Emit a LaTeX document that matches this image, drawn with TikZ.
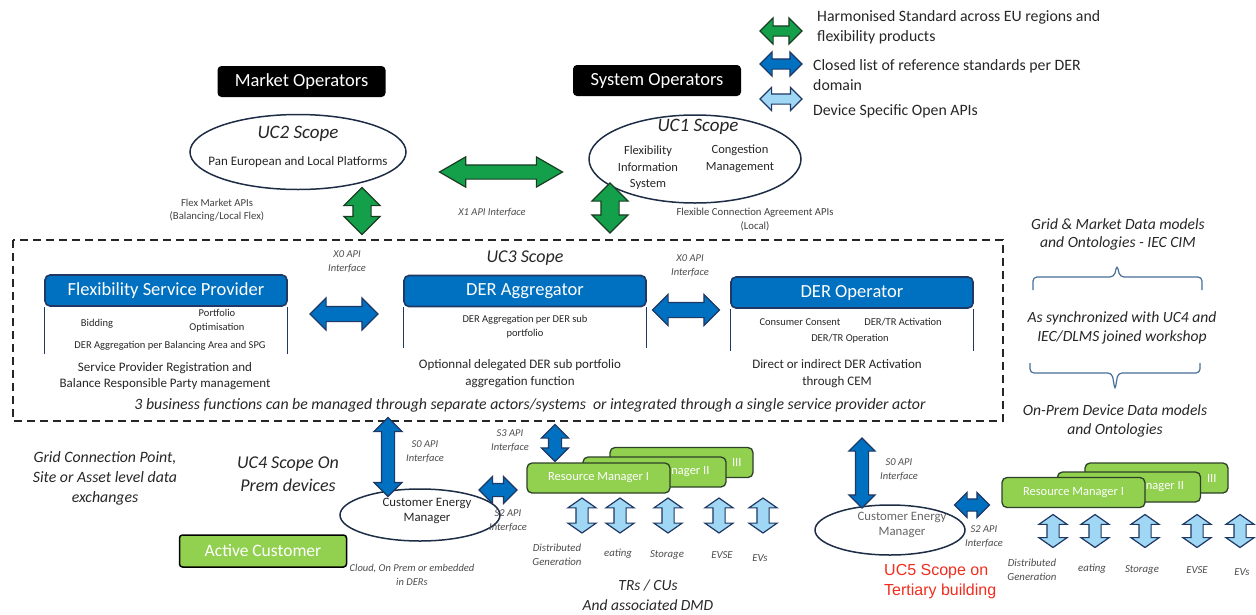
\documentclass[tikz,border=0pt]{standalone}
\usepackage{fontspec}
\setmainfont{Carlito}
\newfontfamily\arialfont{Liberation Sans}
\usetikzlibrary{shapes.geometric,shapes.arrows}

\definecolor{gfill}{RGB}{20,160,75}
\definecolor{gline}{RGB}{25,60,35}
\definecolor{bfill}{RGB}{0,112,192}
\definecolor{bline}{RGB}{31,56,100}
\definecolor{lfill}{RGB}{160,215,245}
\definecolor{rmgreen}{RGB}{146,208,80}
\definecolor{rmline}{RGB}{45,65,40}
\definecolor{ellline}{RGB}{30,45,70}
\definecolor{bracecol}{RGB}{70,110,150}
\definecolor{ucred}{RGB}{240,45,30}
\newcommand{\fsz}[2]{\fontsize{#1}{#2}\selectfont}

\begin{document}
\begin{tikzpicture}[x=1pt,y=-1pt,
  opbox/.style={fill=black,text=white,rounded corners=4pt,minimum width=168pt,minimum height=31pt,inner sep=0pt,font=\fsz{18.5}{21}},
  scopeell/.style={ellipse,draw=ellline,line width=1.5pt,inner sep=0pt},
  hdr/.style={rounded corners=5pt,fill=bfill,draw=bline,line width=1.6pt,text=white,minimum width=242pt,minimum height=31pt,inner sep=0pt,font=\fsz{18.5}{22}},
  body/.style={draw=bline,line width=1pt},
  rmbox/.style={rounded corners=5pt,fill=rmgreen,draw=rmline,line width=1.3pt,text=white,minimum width=143pt,minimum height=30pt,inner sep=0pt,font=\fsz{12.5}{15}},
  rmtxt/.style={inner sep=0pt,text=white,font=\fsz{12.5}{15},anchor=east},
  blk/.style={double arrow,line width=1.2pt,inner xsep=0pt,double arrow tip angle=90},
  garr/.style={blk,fill=gfill,draw=gline},
  barr/.style={blk,fill=bfill,draw=bline},
  larr/.style={blk,fill=lfill,draw=bline,double arrow tip angle=110},
  txt/.style={align=center,inner sep=0pt,text=black!85},
  api/.style={txt,font=\fsz{10.5}{14}\itshape,text=black!70},
  dev/.style={txt,font=\fsz{10.8}{14}\itshape,text=black!70},
  note/.style={txt,font=\fsz{15.8}{20}\itshape},
  bracepath/.style={draw=bracecol,line width=1.2pt,rounded corners=4pt}]
\useasboundingbox (0,0) rectangle (1256,614);

% legend
\node[garr,minimum height=42pt,inner ysep=4.5pt,double arrow head extend=8pt] (lgg) at (781,31) {};
\node[barr,minimum height=42pt,inner ysep=4.5pt,double arrow head extend=7pt] (lgb) at (781,64) {};
\node[larr,minimum height=42pt,inner ysep=4.5pt,double arrow head extend=6.5pt,double arrow tip angle=90] (lgl) at (781,99) {};
\node[txt,anchor=west,align=left,font=\fsz{15.8}{20}] (lggtxt) at (817,27) {Harmonised Standard across EU regions and\\flexibility products};
\node[txt,anchor=west,align=left,font=\fsz{15.8}{20}] (lgbtxt) at (813,75) {Closed list of reference standards per DER\\domain};
\node[txt,anchor=west,align=left,font=\fsz{15.8}{20}] (lgltxt) at (813,111) {Device Specific Open APIs};

% operators and upper scopes
\node[opbox] (mo) at (301.5,81.5) {Market Operators};
\node[opbox] (so) at (657,80.5) {System Operators};

\node[scopeell,minimum width=216pt,minimum height=75pt] (uc2) at (298,152) {};
\node[txt,font=\fsz{19}{22}\itshape] (uc2t) at (298,134) {UC2 Scope};
\node[txt,font=\fsz{13}{16}] (uc2p) at (298,162) {Pan European and Local Platforms};

\node[scopeell,minimum width=212pt,minimum height=88pt] (uc1) at (695,159) {};
\node[txt,font=\fsz{19}{22}\itshape] (uc1t) at (698,127) {UC1 Scope};
\node[txt,font=\fsz{12.5}{16.5}] (fis) at (648,168) {Flexibility\\Information\\System};
\node[txt,font=\fsz{12.5}{17}] (cm) at (740,159) {Congestion\\Management};

\node[garr,minimum height=47pt,inner ysep=8.5pt,double arrow head extend=9pt,rotate=90] (uc2api) at (362,211) {};
\node[garr,minimum height=123pt,inner ysep=6.5pt,double arrow head extend=8pt,double arrow tip angle=60] (x1api) at (501,172) {};
\node[garr,minimum height=50pt,inner ysep=8.5pt,double arrow head extend=9pt,rotate=90] (uc1api) at (610,208) {};

\node[txt,font=\fsz{10.7}{13},text=black!75] (flexapi) at (217,210) {Flex Market APIs\\(Balancing/Local Flex)};
\node[api] (x1lbl) at (492,213) {X1 API Interface};
\node[txt,font=\fsz{10.7}{14},text=black!75] (fcalbl) at (755,220) {Flexible Connection Agreement APIs\\(Local)};

% UC3 frame
\draw[draw=black!85,line width=1.4pt,dash pattern=on 8pt off 5pt] (13,240) rectangle (1003,421);
\node[txt,font=\fsz{18}{22}\itshape] (uc3t) at (525,258) {UC3 Scope};
\node[api] (x0a) at (347,262) {X0 API\\Interface};
\node[api] (x0b) at (690,266) {X0 API\\Interface};

\node[hdr] (fsp) at (166,290.5) {Flexibility Service Provider};
\draw[body] (fsp.south west) -- ++(0,47);
\draw[body] (fsp.south east) -- ++(0,47);
\node[txt,font=\fsz{10.5}{14}] (bid) at (97,324) {Bidding};
\node[txt,font=\fsz{10.5}{14}] (popt) at (217,321) {Portfolio\\Optimisation};
\node[txt,font=\fsz{10.5}{14}] (dagg) at (170,346) {DER Aggregation per Balancing Area and SPG};
\node[txt,font=\fsz{13}{16.5}] (spr) at (165,376) {Service Provider Registration and\\Balance Responsible Party management};

\node[hdr] (dera) at (525,291) {DER Aggregator};
\draw[body] (dera.south west) -- ++(0,41);
\draw[body] (dera.south east) -- ++(0,41);
\node[txt,font=\fsz{10.5}{14}] (deraagg) at (525,327) {DER Aggregation per DER sub\\portfolio};
\node[txt,font=\fsz{13}{16.5}] (deraopt) at (520,373.5) {Optionnal delegated DER sub portfolio\\aggregation function};

\node[hdr] (dero) at (852,292.5) {DER Operator};
\draw[body] (dero.south west) -- ++(0,42);
\draw[body] (dero.south east) -- ++(0,42);
\node[txt,font=\fsz{10.5}{14}] (cc) at (800,322) {Consumer Consent};
\node[txt,font=\fsz{10.5}{14}] (act) at (903,322) {DER/TR Activation};
\node[txt,font=\fsz{10.5}{14}] (oper) at (850,339) {DER/TR Operation};
\node[txt,font=\fsz{13}{16.5}] (direct) at (837,373.5) {Direct or indirect DER Activation\\through CEM};

\node[barr,minimum height=68pt,inner ysep=7pt,double arrow head extend=8.5pt] (x0l) at (344,314) {};
\node[barr,minimum height=67pt,inner ysep=7pt,double arrow head extend=8pt] (x0r) at (686,310) {};

\node[note] (biz) at (530,405) {3 business functions can be managed through separate actors/systems\ \ or integrated through a single service provider actor};

% data models
\node[txt,font=\fsz{15.6}{18}\itshape] (gmd) at (1118,234) {Grid \& Market Data models\\and Ontologies - IEC CIM};
\draw[bracepath] (1033,290) -- (1033,277) -- (1114,277) -- (1117,265) -- (1120,277) -- (1202,277) -- (1202,290);
\node[txt,font=\fsz{15.6}{19}\itshape] (sync) at (1122,328) {As synchronized with UC4 and\\IEC/DLMS joined workshop};
\draw[bracepath] (1030,363) -- (1030,373) -- (1112,373) -- (1115,390) -- (1118,373) -- (1200,373) -- (1200,363);
\node[txt,font=\fsz{15.6}{19}\itshape] (onprem) at (1115,421) {On-Prem Device Data models\\and Ontologies};

% UC4 on prem
\node[note] (gcp) at (105,478) {Grid Connection Point,\\Site or Asset level data\\exchanges};
\node[txt,font=\fsz{18}{23}\itshape] (uc4t) at (288,474) {UC4 Scope On\\Prem devices};

\node[scopeell,minimum width=160pt,minimum height=52pt] (cema) at (420,515) {};
\node[txt,font=\fsz{12.8}{15.5}] (cematxt) at (427,511) {Customer Energy\\Manager};
\node[barr,minimum height=79pt,inner ysep=6pt,double arrow head extend=7.5pt,rotate=90] (s0a) at (388,457) {};
\node[api] (s0alb) at (425,452) {S0 API\\Interface};
\node[barr,minimum height=38pt,inner ysep=6pt,double arrow head extend=7pt] (s2a) at (498,490) {};
\node[api] (s2alb) at (508,521) {S2 API\\Interface};
\node[rmbox,minimum width=167pt,minimum height=32pt,rounded corners=3pt,draw=black,line width=1.5pt,font=\fsz{17.5}{20}] (ac) at (263,551) {Active Customer};
\node[api] (cloud) at (412,575) {Cloud, On Prem or embedded\\in DERs};

\node[barr,minimum height=37pt,inner ysep=6pt,double arrow head extend=7pt,rotate=90] (s3) at (555,443) {};
\node[api] (s3lb) at (510,441) {S3 API\\Interface};

\node[rmbox] (rm3a) at (681.5,462.5) {};
\node[rmtxt] (rm3atxt) at ([xshift=-12pt]rm3a.east) {III};
\node[rmbox] (rm2a) at (654.5,472) {};
\node[rmtxt] (rm2atxt) at ([xshift=-17pt]rm2a.east) {nager II};
\node[rmbox] (rm1a) at (598.5,478) {Resource Manager I};

\node[larr,minimum height=35pt,inner ysep=5.5pt,double arrow head extend=8pt,rotate=90] (deva1) at (582,515.5) {};
\node[larr,minimum height=35pt,inner ysep=5.5pt,double arrow head extend=8pt,rotate=90] (deva2) at (620,515.5) {};
\node[larr,minimum height=35pt,inner ysep=5.5pt,double arrow head extend=8pt,rotate=90] (deva3) at (668,515.5) {};
\node[larr,minimum height=35pt,inner ysep=5.5pt,double arrow head extend=8pt,rotate=90] (deva4) at (719,515.5) {};
\node[larr,minimum height=35pt,inner ysep=5.5pt,double arrow head extend=8pt,rotate=90] (deva5) at (763,515.5) {};
\node[dev] (dga) at (557,555) {Distributed\\Generation};
\node[dev] (hta) at (618,554) {eating};
\node[dev] (sta) at (667,555) {Storage};
\node[dev] (evsea) at (722,555) {EVSE};
\node[dev] (eva) at (760,558) {EVs};
\node[txt,font=\fsz{15.5}{20}\itshape] (trs) at (648,595) {TRs / CUs\\And associated DMD};

% UC5 tertiary building
\node[scopeell,minimum width=150pt,minimum height=50pt] (cemb) at (890,530) {};
\node[txt,font=\fsz{12.8}{15.5},text=black!60] (cembtxt) at (902,525) {Customer Energy\\Manager};
\node[barr,minimum height=70pt,inner ysep=6pt,double arrow head extend=6.5pt,rotate=90] (s0b) at (862,473) {};
\node[api] (s0blb) at (899,470) {S0 API\\Interface};
\node[barr,minimum height=35pt,inner ysep=5.5pt,double arrow head extend=6.5pt] (s2b) at (972,505) {};
\node[api] (s2blb) at (984,537) {S2 API\\Interface};
\node[txt,anchor=west,align=left,font=\arialfont\fsz{16}{20},text=ucred] (uc5t) at (884,582) {UC5 Scope on\\Tertiary building};

\node[rmbox] (rm3b) at (1156.5,478) {};
\node[rmtxt] (rm3btxt) at ([xshift=-12pt]rm3b.east) {III};
\node[rmbox] (rm2b) at (1129,487) {};
\node[rmtxt] (rm2btxt) at ([xshift=-17pt]rm2b.east) {nager II};
\node[rmbox] (rm1b) at (1073.5,492.5) {Resource Manager I};

\node[larr,minimum height=33pt,inner ysep=5.5pt,double arrow head extend=8pt,rotate=90] (devb1) at (1053,531) {};
\node[larr,minimum height=33pt,inner ysep=5.5pt,double arrow head extend=8pt,rotate=90] (devb2) at (1095,531) {};
\node[larr,minimum height=33pt,inner ysep=5.5pt,double arrow head extend=8pt,rotate=90] (devb3) at (1145,531) {};
\node[larr,minimum height=33pt,inner ysep=5.5pt,double arrow head extend=8pt,rotate=90] (devb4) at (1197,531) {};
\node[larr,minimum height=33pt,inner ysep=5.5pt,double arrow head extend=8pt,rotate=90] (devb5) at (1240,531) {};
\node[dev] (dgb) at (1032,570) {Distributed\\Generation};
\node[dev] (htb) at (1092,569) {eating};
\node[dev] (stb) at (1142,570) {Storage};
\node[dev] (evseb) at (1197,570) {EVSE};
\node[dev] (evb) at (1242,572) {EVs};
\end{tikzpicture}
\end{document}
